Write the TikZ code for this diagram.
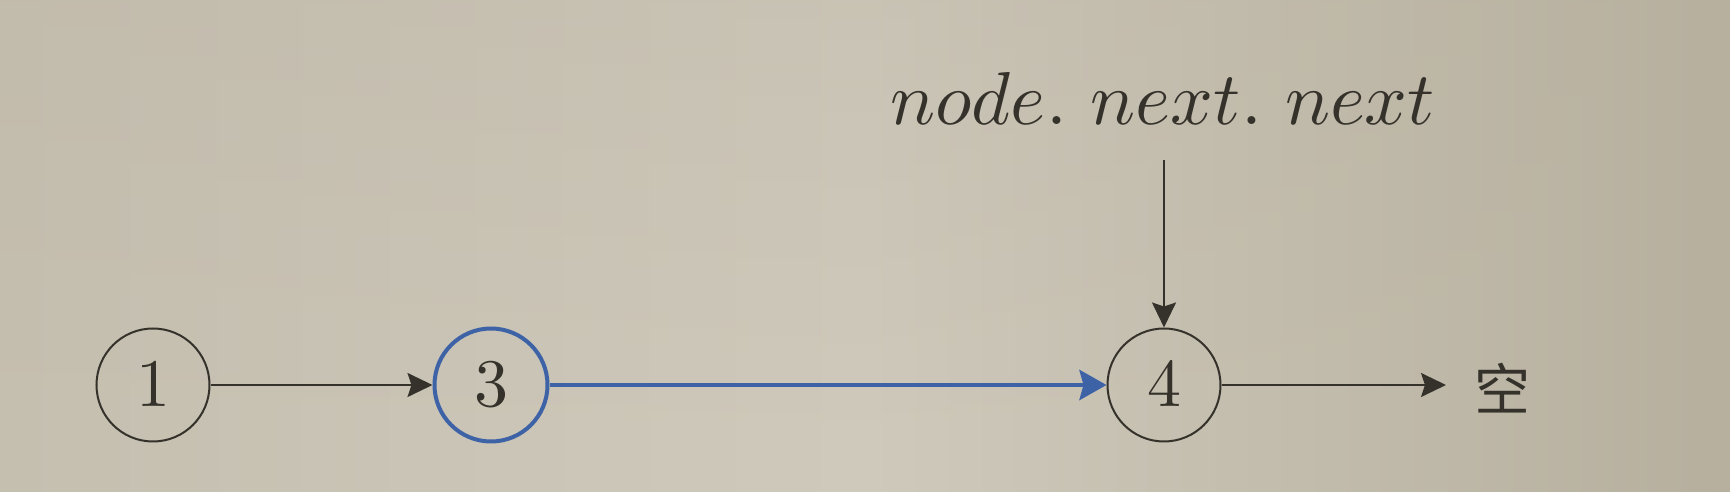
\documentclass[tikz,border=0pt]{standalone}
\usepackage{fontspec}
\newfontfamily\cjk{Noto Sans CJK SC}
\usetikzlibrary{arrows.meta,fadings}
\font\bigmi=cmmi10 at 75pt
\font\bignum=cmr10 at 68pt
\newcommand{\mdot}{\hskip1pt\char58\hskip23pt}
\definecolor{inkc}{HTML}{35322B}
\definecolor{bluec}{HTML}{3E62A6}
\definecolor{bgL}{HTML}{C6C0B1}
\definecolor{bgM}{HTML}{CFCABC}
\definecolor{bgR}{HTML}{B7B09F}
\tikzset{
  listnode/.style={circle, draw=inkc, line width=2pt, minimum size=113pt, inner sep=0pt,
    text=inkc, font=\bignum},
  hinode/.style={listnode, draw=bluec, line width=4pt},
  link/.style={draw=inkc, line width=2pt, -{Stealth[length=25pt,width=24pt,inset=4pt]}},
  hilink/.style={draw=bluec, line width=4.5pt, -{Stealth[length=27pt,width=30pt,inset=4pt]}},
  lbl/.style={text=inkc, inner sep=0pt},
}
\begin{document}
\begin{tikzpicture}[x=1pt,y=1pt]
\useasboundingbox (0,0) rectangle (1730,492);
\shade[left color=bgL, right color=bgR, middle color=bgM, shading angle=90] (0,0) rectangle (1730,492);
\fill[bgR, opacity=0.25, path fading=south] (0,0) rectangle (1730,492);
\node[listnode] (n1) at (153,107) {1};
\node[hinode] (n3) at (491,107) {3};
\node[listnode] (n4) at (1164,107) {4};
\node[lbl, font=\cjk\fontsize{56}{60}\selectfont] (nil) at (1502,104) {空};
\node[lbl, anchor=base, font=\bigmi] (ptr) at (1163,367)
  {node\mdot next\mdot next};
\coordinate (ptrend) at (1164,332);
\coordinate (nilend) at (1446,107);
\draw[link] (n1) -- (n3);
\draw[hilink] (n3) -- (n4);
\draw[link] (n4) -- (nilend);
\draw[link] (ptrend) -- (n4);
\end{tikzpicture}
\end{document}
